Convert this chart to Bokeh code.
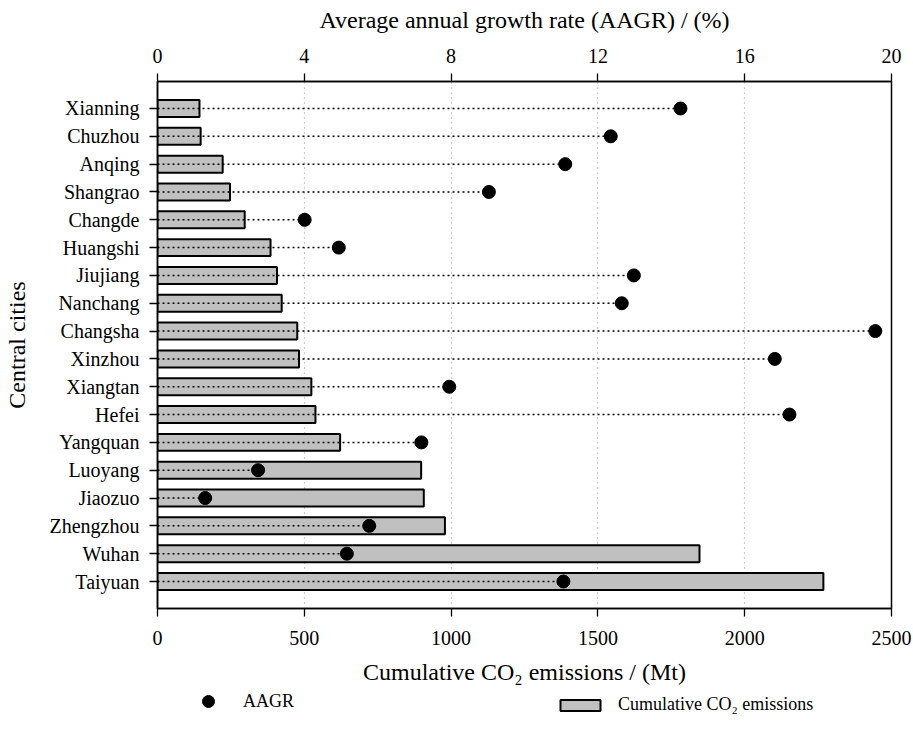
from bokeh.plotting import figure
from bokeh.layouts import column
from bokeh.models import (FactorRange, Range1d, LinearAxis, FixedTicker, Legend,
                          LegendItem, ColumnDataSource)
from bokeh.embed import file_html
from bokeh.resources import INLINE

# ---- data (top to bottom as in the chart) ----
cities = ["Xianning", "Chuzhou", "Anqing", "Shangrao", "Changde", "Huangshi",
          "Jiujiang", "Nanchang", "Changsha", "Xinzhou", "Xiangtan", "Hefei",
          "Yangquan", "Luoyang", "Jiaozuo", "Zhengzhou", "Wuhan", "Taiyuan"]
emissions = [143, 147, 222, 247, 297, 385, 407, 423, 476, 482, 524, 538,
             622, 898, 907, 979, 1846, 2268]
aagr = [14.25, 12.35, 11.11, 9.03, 4.01, 4.94, 12.98, 12.65, 19.56, 16.82,
        7.95, 17.22, 7.19, 2.74, 1.30, 5.77, 5.16, 11.06]
emis_ticks = [0, 500, 1000, 1500, 2000, 2500]
aagr_ticks = [0, 4, 8, 12, 16, 20]
grid_ticks = [500, 1000, 1500, 2000]

FONT = "Liberation Serif"
BAR_FILL = "#c0c0c0"

src = ColumnDataSource(dict(city=cities, emis=emissions, aagr=aagr))

MAIN_H = 688
p = figure(width=913, height=MAIN_H,
           y_range=FactorRange(factors=cities[::-1], range_padding=0.47,
                               range_padding_units="absolute"),
           x_range=Range1d(0, 2500),
           output_backend="svg", toolbar_location=None,
           x_axis_label="Cumulative CO\u2082 emissions / (Mt)",
           y_axis_label="Central cities")
p.extra_x_ranges = {"aagr": Range1d(0, 20)}

p.min_border_left = 157
p.min_border_right = 22
p.min_border_top = 81
p.min_border_bottom = MAIN_H - 608
p.outline_line_color = "black"
p.outline_line_width = 1.5
p.background_fill_color = "white"
p.border_fill_color = "white"

bars = p.hbar(y="city", right="emis", left=0, height=0.61, source=src,
              fill_color=BAR_FILL, line_color="black", line_width=2)
p.segment(x0=0, y0="city", x1="aagr", y1="city", source=src,
          x_range_name="aagr", line_color="black", line_width=1.5,
          line_dash="2 3")
dots = p.scatter(x="aagr", y="city", source=src, x_range_name="aagr",
                 size=13, fill_color="black", line_color="black")

top_axis = LinearAxis(x_range_name="aagr",
                      axis_label="Average annual growth rate (AAGR) / (%)",
                      ticker=FixedTicker(ticks=aagr_ticks))
p.add_layout(top_axis, "above")

p.below[0].ticker = FixedTicker(ticks=emis_ticks)

for ax in p.xaxis + p.yaxis:
    ax.major_tick_out = 8
    ax.major_tick_in = 0
    ax.minor_tick_line_color = None
    ax.axis_line_color = "black"
    ax.axis_line_width = 1.5
    ax.major_tick_line_color = "black"
    ax.major_tick_line_width = 1.3
    ax.major_label_text_font = FONT
    ax.major_label_text_font_size = "20px"
    ax.major_label_text_color = "black"
    ax.axis_label_text_font = FONT
    ax.axis_label_text_font_size = "24px"
    ax.axis_label_text_font_style = "normal"
    ax.axis_label_text_color = "black"

p.yaxis.major_label_standoff = 10
p.yaxis.axis_label_standoff = 17
top_axis.major_label_standoff = 11
top_axis.axis_label_standoff = 13
p.below[0].major_label_standoff = 14
p.below[0].axis_label_standoff = 11

p.xgrid.ticker = FixedTicker(ticks=grid_ticks)
p.xgrid.grid_line_color = "#9a9a9a"
p.xgrid.grid_line_dash = "1 4"
p.xgrid.grid_line_width = 1.2
p.ygrid.visible = False

# ---- legend strip below the chart (sample renderers hidden, shown only as keys) ----
LEG_H = 740 - MAIN_H
lf = figure(width=913, height=LEG_H, x_range=Range1d(-2, -1), y_range=Range1d(-2, -1),
            output_backend="svg", toolbar_location=None,
            x_axis_location=None, y_axis_location=None)
lf.min_border_left = 157
lf.min_border_right = 22
lf.min_border_top = 0
lf.min_border_bottom = 0
lf.outline_line_color = None
lf.grid.visible = False
lf.background_fill_color = "white"
lf.border_fill_color = "white"

leg_dot = lf.scatter(x="aagr", y="aagr", source=src, size=13,
                     fill_color="black", line_color="black", visible=False)
leg_bar = lf.hbar(y="aagr", right="emis", left=0, height=0.5, source=src,
                  fill_color=BAR_FILL, line_color="black", line_width=2,
                  visible=False)

common = dict(padding=0, margin=0, spacing=0, border_line_color=None,
              background_fill_alpha=0, inactive_fill_alpha=0,
              label_text_font=FONT, label_text_font_size="18px",
              label_text_color="black")
leg1 = Legend(items=[LegendItem(label="AAGR", renderers=[leg_dot])],
              location=(36, LEG_H - 28), glyph_width=30, glyph_height=30,
              label_standoff=20, **common)
leg2 = Legend(items=[LegendItem(label="Cumulative CO\u2082 emissions", renderers=[leg_bar])],
              location=(398, LEG_H - 27), glyph_width=50, glyph_height=14,
              label_standoff=13, label_height=14, **common)
lf.add_layout(leg1, "center")
lf.add_layout(leg2, "center")

layout = column(p, lf, spacing=0)
open("out.html", "w").write(file_html(layout, INLINE))
